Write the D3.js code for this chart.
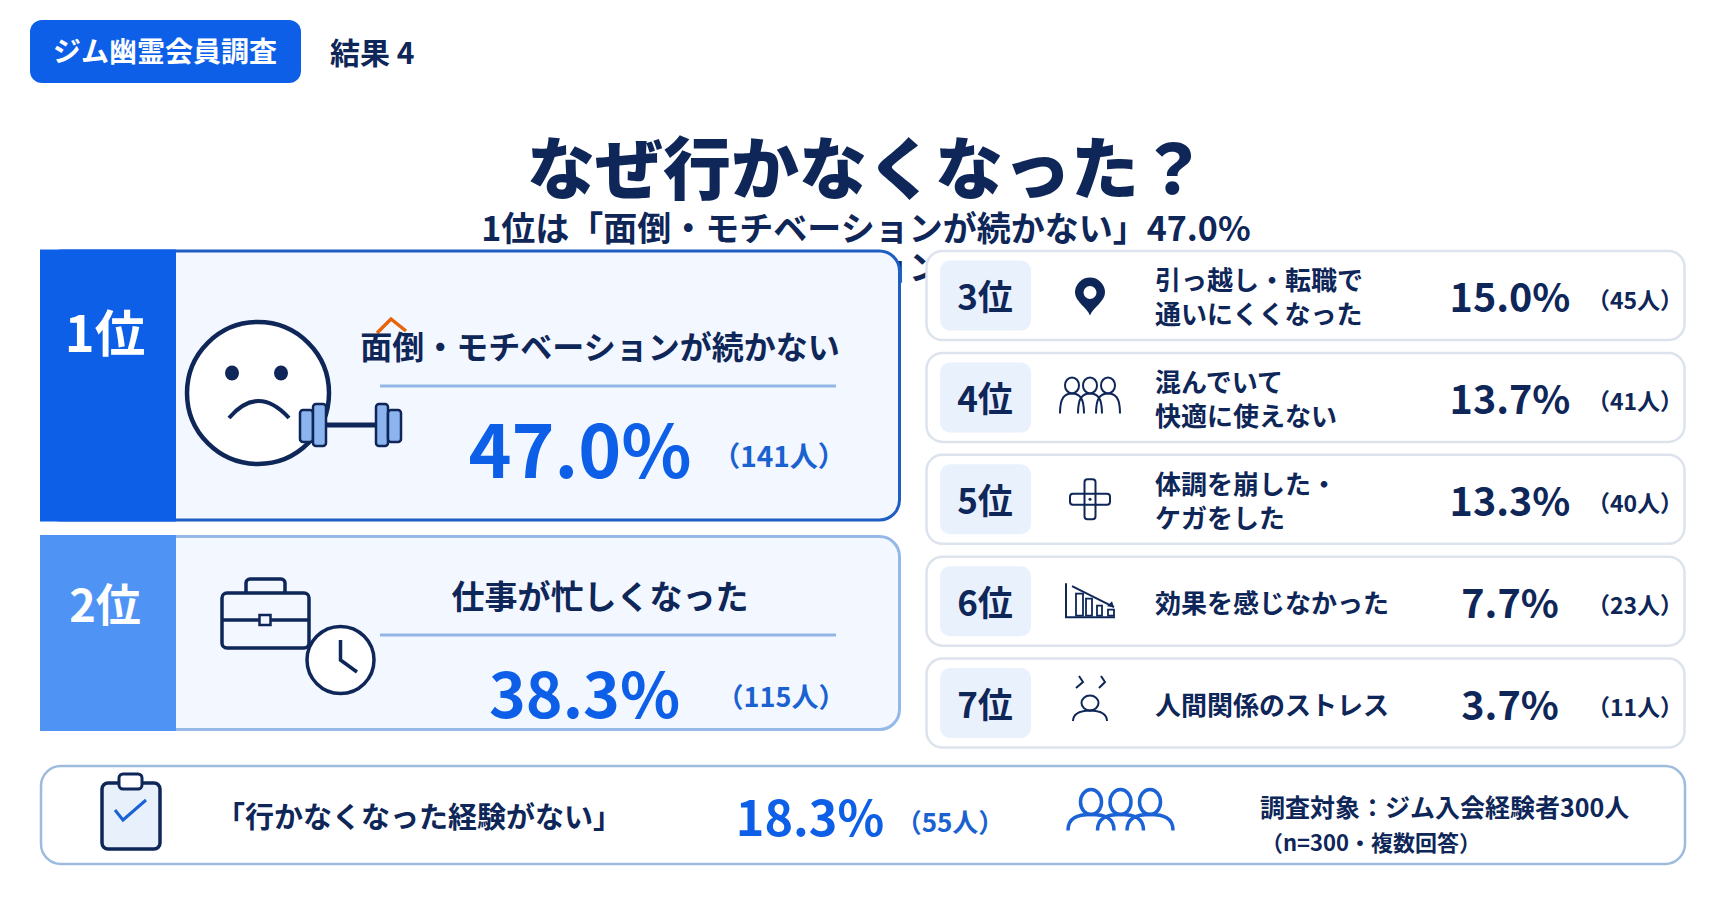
<!DOCTYPE html>
<html lang="ja">
<head>
<meta charset="utf-8">
<script src="https://cdn.jsdelivr.net/npm/d3@7"></script>
<style>
  html, body { margin: 0; background: #fff; }
  text { font-family: "Noto Sans CJK JP", "Noto Sans", sans-serif; }
</style>
</head>
<body>
<div id="chart"></div>
<script>
// survey values
const topRanks = ['1位', '2位'];
const topLabels = ['面倒・モチベーションが続かない', '仕事が忙しくなった'];
const topPercents = [47.0, 38.3];
const topCounts = [141, 115];

const rowRanks = ['3位', '4位', '5位', '6位', '7位'];
const rowLabels = [
  ['引っ越し・転職で', '通いにくくなった'],
  ['混んでいて', '快適に使えない'],
  ['体調を崩した・', 'ケガをした'],
  ['効果を感じなかった'],
  ['人間関係のストレス']
];
const rowPercents = [15.0, 13.7, 13.3, 7.7, 3.7];
const rowCounts = [45, 41, 40, 23, 11];

const noneLabel = '「行かなくなった経験がない」';
const nonePercent = 18.3;
const noneCount = 55;

const pct = d => d3.format('.1f')(d) + '%';
const people = d => `（${d}人）`;

const NAVY = '#0e2658', BLUE = '#0d5fe8', MID = '#4f94f5', PALE = '#f3f7ff';

const svg = d3.select('#chart').append('svg')
  .attr('width', 1731).attr('height', 909)
  .style('display', 'block');

function label(g, x, y, str, size, color, weight, anchor) {
  return g.append('text')
    .attr('x', x).attr('y', y)
    .attr('dominant-baseline', 'central')
    .attr('text-anchor', anchor || 'middle')
    .attr('font-size', size)
    .attr('font-weight', weight || 700)
    .attr('fill', color)
    .text(str);
}

// head plus an arched body
function person(g, x, y, rx, ry, w, h) {
  g.append('ellipse').attr('cx', x).attr('cy', y).attr('rx', rx).attr('ry', ry);
  const top = y + ry, bottom = top + h;
  g.append('path').attr('d', `M${x - w},${bottom} C${x - w},${top + h * 0.2} ${x - w * 0.6},${top} ${x},${top} C${x + w * 0.6},${top} ${x + w},${top + h * 0.2} ${x + w},${bottom}`);
}

// small icons for the five rows, drawn round the row centre
const rowIcons = [
  g => {
    g.append('path').attr('d', 'M0,20 C-3,12 -15,6 -15,-3 A15,15 0 1 1 15,-3 C15,6 3,12 0,20 Z').attr('fill', NAVY).attr('stroke', 'none');
    g.append('circle').attr('cx', 0).attr('cy', -3).attr('r', 6.5).attr('fill', '#fff').attr('stroke', 'none');
  },
  g => {
    [-18, 0, 18].forEach(x => person(g, x, -12, 7, 8, 12, 20));
  },
  g => {
    g.append('rect').attr('x', -5.5).attr('y', -20).attr('width', 11).attr('height', 40).attr('rx', 3);
    g.append('rect').attr('x', -20).attr('y', -5.5).attr('width', 40).attr('height', 11).attr('rx', 3);
    g.append('circle').attr('r', 1.5).attr('fill', NAVY).attr('stroke', 'none');
  },
  g => {
    g.append('path').attr('d', 'M-24,-18 V16 H25');
    [[-14, -7, 7, 22], [-4, -2, 6, 17], [7, 5, 5, 10], [18, 9, 6, 6]].forEach(b => {
      g.append('rect').attr('x', b[0]).attr('y', b[1] - 0.5).attr('width', b[2]).attr('height', b[3]).attr('stroke-width', 1.8);
    });
    g.append('path').attr('d', 'M-18,-15 L24,6');
    g.append('path').attr('d', 'M24,6 L17,5 L22,0 Z').attr('fill', NAVY).attr('stroke', 'none');
  },
  g => {
    g.append('ellipse').attr('cx', 0).attr('cy', 0).attr('rx', 8.5).attr('ry', 7.5);
    g.append('path').attr('d', 'M-17,18 Q-17,8 0,7.5 Q17,8 17,18');
    g.append('path').attr('d', 'M-11,-27 L-7,-21 L-14,-15 M11,-27 L15,-21 L9,-15');
  }
];

// header
svg.append('rect').attr('x', 30).attr('y', 20).attr('width', 271).attr('height', 63).attr('rx', 12).attr('fill', BLUE);
label(svg, 165, 50, 'ジム幽霊会員調査', 28, '#fff');
label(svg, 330, 51, '結果 4', 30, NAVY, 700, 'start');

const subtitle = `1位は「${topLabels[0]}」${pct(topPercents[0])}`;
// second copy of the line sits behind the cards
label(svg, 866, 265, subtitle, 34, NAVY);
label(svg, 867, 164, 'なぜ行かなくなった？', 68, NAVY, 900);
label(svg, 866, 226, subtitle, 34, NAVY);

// two big cards
const bigCards = [
  { y: 251, h: 269, band: BLUE, stroke: '#1f5fc4', rankY: 330, rankSize: 50.5, labelY: 345, labelSize: 32, ruleY: 386, pctX: 580, pctY: 446, pctSize: 73, countX: 779, countY: 455, countSize: 28 },
  { y: 536.5, h: 193, band: MID, stroke: '#94b8e8', rankY: 602, rankSize: 45, labelY: 595, labelSize: 33, ruleY: 635, pctX: 584.5, pctY: 690, pctSize: 62.5, countX: 781, countY: 695, countSize: 27 }
];
bigCards.forEach((c, i) => {
  const g = svg.append('g');
  g.append('rect').attr('x', 41.5).attr('y', c.y).attr('width', 858).attr('height', c.h).attr('rx', 20)
    .attr('fill', PALE).attr('stroke', c.stroke).attr('stroke-width', 3);
  g.append('rect').attr('x', 40).attr('y', c.y - 1.5).attr('width', 136).attr('height', c.h + 3).attr('fill', c.band);
  label(g, 105, c.rankY, topRanks[i], c.rankSize, '#fff');
  if (i === 0) {
    g.append('path').attr('d', 'M377,333 L391,319 L406,331').attr('fill', 'none')
      .attr('stroke', '#e8640c').attr('stroke-width', 3.5);
  }
  label(g, 600, c.labelY, topLabels[i], c.labelSize, NAVY, 700);
  g.append('line').attr('x1', 380).attr('x2', 836).attr('y1', c.ruleY).attr('y2', c.ruleY)
    .attr('stroke', '#93b5e6').attr('stroke-width', 3);
  label(g, c.pctX, c.pctY, pct(topPercents[i]), c.pctSize, BLUE);
  label(g, c.countX, c.countY, people(topCounts[i]), c.countSize, '#1a62d0', 700);
});

// sad face with dumbbell
const face = svg.append('g').attr('fill', 'none').attr('stroke', NAVY);
face.append('circle').attr('cx', 258).attr('cy', 393).attr('r', 71).attr('fill', '#fff').attr('stroke-width', 4.5);
[232, 281].forEach(x => face.append('ellipse').attr('cx', x).attr('cy', 373).attr('rx', 7).attr('ry', 7.5)
  .attr('fill', NAVY).attr('stroke', 'none'));
face.append('path').attr('d', 'M229,418 Q258,384 289,418').attr('stroke-width', 4);
face.append('line').attr('x1', 326).attr('x2', 376).attr('y1', 425).attr('y2', 425).attr('stroke-width', 5);
[[300, 410, 13, 32], [313, 404, 13, 42], [376, 404, 12, 42], [388, 410, 13, 32]].forEach(p => {
  face.append('rect').attr('x', p[0]).attr('y', p[1]).attr('width', p[2]).attr('height', p[3]).attr('rx', 3)
    .attr('fill', '#8cb4ee').attr('stroke-width', 2.5);
});

// briefcase and clock
const brief = svg.append('g').attr('fill', 'none').attr('stroke', NAVY).attr('stroke-width', 3.5);
brief.append('rect').attr('x', 246).attr('y', 579).attr('width', 39).attr('height', 16).attr('rx', 4);
brief.append('rect').attr('x', 222).attr('y', 593).attr('width', 87).attr('height', 55).attr('rx', 5).attr('fill', PALE);
brief.append('line').attr('x1', 222).attr('x2', 309).attr('y1', 620).attr('y2', 620);
brief.append('rect').attr('x', 259.5).attr('y', 615).attr('width', 11).attr('height', 10).attr('fill', PALE).attr('stroke-width', 2.5);
brief.append('circle').attr('cx', 340.5).attr('cy', 660).attr('r', 33.5).attr('fill', '#fff');
brief.append('path').attr('d', 'M340.5,640 V660 L357,672');

// ranks 3 to 7
const rowY = d3.scaleLinear().domain([0, rowRanks.length - 1]).range([295.5, 703]);
const rows = svg.selectAll('g.row').data(rowRanks).join('g')
  .attr('class', 'row')
  .attr('transform', (d, i) => `translate(0,${rowY(i)})`);
rows.append('rect').attr('x', 926.5).attr('y', -44.5).attr('width', 758).attr('height', 89).attr('rx', 16)
  .attr('fill', '#fff').attr('stroke', '#dde3ec').attr('stroke-width', 2.5);
rows.append('rect').attr('x', 940).attr('y', -35).attr('width', 91).attr('height', 70).attr('rx', 10).attr('fill', '#e9f1fd');
rows.each(function (d, i) {
  const g = d3.select(this);
  label(g, 985, -1, d, 35, NAVY);
  const lines = rowLabels[i];
  lines.forEach((t, j) => {
    const dy = lines.length === 2 ? (j === 0 ? -17 : 17) : 0;
    label(g, 1155, dy, t, 26, NAVY, 700, 'start');
  });
  label(g, 1510, -1, pct(rowPercents[i]), 39.5, NAVY);
  label(g, 1635, 3, people(rowCounts[i]), 23, NAVY, 700);
  const icon = g.append('g').attr('transform', 'translate(1090,0)')
    .attr('fill', 'none').attr('stroke', NAVY).attr('stroke-width', 2);
  rowIcons[i](icon);
});

// bottom strip
const foot = svg.append('g');
foot.append('rect').attr('x', 41).attr('y', 766).attr('width', 1644).attr('height', 98).attr('rx', 20)
  .attr('fill', '#fff').attr('stroke', '#9dbbdd').attr('stroke-width', 2.5);
foot.append('rect').attr('x', 102).attr('y', 783).attr('width', 58).attr('height', 66).attr('rx', 6)
  .attr('fill', '#e8f0fc').attr('stroke', NAVY).attr('stroke-width', 3.5);
foot.append('rect').attr('x', 119).attr('y', 774).attr('width', 23).attr('height', 15).attr('rx', 4)
  .attr('fill', '#fff').attr('stroke', NAVY).attr('stroke-width', 3);
foot.append('path').attr('d', 'M115,810 L123,820 L146,800').attr('fill', 'none').attr('stroke', '#1a62d6').attr('stroke-width', 3);
label(foot, 419, 815, noneLabel, 29, NAVY, 700);
label(foot, 810, 815, pct(nonePercent), 48.5, BLUE);
label(foot, 950, 820, people(noneCount), 26, '#1a62d0', 700);
const crowd = foot.append('g').attr('fill', 'none').attr('stroke', '#1a62d6').attr('stroke-width', 3.5);
[1091, 1120.5, 1150].forEach(x => person(crowd, x, 802, 10.5, 12.5, 23, 16));
label(foot, 1260, 806, '調査対象：ジム入会経験者300人', 25, NAVY, 700, 'start');
label(foot, 1261, 841, '（n=300・複数回答）', 22, NAVY, 700, 'start');
</script>
</body>
</html>
